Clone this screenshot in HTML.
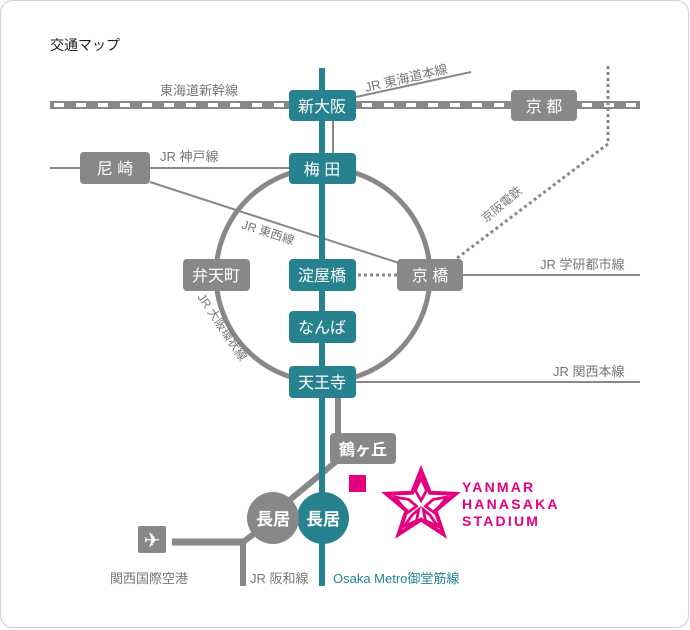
<!DOCTYPE html>
<html><head><meta charset="utf-8"><style>
html,body{margin:0;padding:0;background:#fff}
svg{display:block}
text{font-family:"Liberation Sans","Noto Sans CJK JP",sans-serif}
</style></head><body>
<svg width="690" height="630" viewBox="0 0 690 630" xmlns="http://www.w3.org/2000/svg">
<rect x="0.5" y="0.5" width="688" height="627" rx="12" fill="#fff" stroke="#d0d0d0"/>
<text x="50" y="50" font-size="14" fill="#222">交通マップ</text>

<line x1="50" y1="105" x2="640" y2="105" stroke="#888" stroke-width="8"/>
<line x1="54" y1="105" x2="640" y2="105" stroke="#fff" stroke-width="4" stroke-dasharray="10,12"/>
<text x="160" y="95" font-size="13" fill="#777">東海道新幹線</text>
<line x1="356" y1="97" x2="471" y2="72" stroke="#888" stroke-width="2"/>
<text x="0" y="0" font-size="13" fill="#777" transform="translate(366,92) rotate(-13)">JR 東海道本線</text>
<polyline points="608,66 608,144 452,262" fill="none" stroke="#888" stroke-width="3" stroke-dasharray="3,3"/>
<text x="0" y="0" font-size="12" fill="#777" transform="translate(486,223) rotate(-40)">京阪電鉄</text>
<line x1="333" y1="121" x2="333" y2="153" stroke="#888" stroke-width="2"/>
<line x1="50" y1="168" x2="290" y2="168" stroke="#888" stroke-width="2"/>
<text x="160" y="161" font-size="13" fill="#777">JR 神戸線</text>
<line x1="150" y1="182" x2="402" y2="264" stroke="#888" stroke-width="2"/>
<text x="0" y="0" font-size="12" fill="#777" transform="translate(241,228) rotate(18)">JR 東西線</text>
<circle cx="323" cy="275" r="107" fill="none" stroke="#888" stroke-width="5"/>
<text x="0" y="0" font-size="12" fill="#777" transform="translate(197,297) rotate(56)">JR 大阪環状線</text>
<line x1="463" y1="275" x2="640" y2="275" stroke="#888" stroke-width="2"/>
<text x="540" y="269" font-size="13" fill="#777">JR 学研都市線</text>
<line x1="358" y1="275" x2="397" y2="275" stroke="#888" stroke-width="3" stroke-dasharray="3,3"/>
<line x1="356" y1="382" x2="640" y2="382" stroke="#888" stroke-width="2"/>
<text x="553" y="376" font-size="13" fill="#777">JR 関西本線</text>

<line x1="338" y1="396" x2="338" y2="436" stroke="#888" stroke-width="6"/>
<line x1="338" y1="460" x2="268" y2="518" stroke="#888" stroke-width="6"/>
<line x1="172" y1="542" x2="246" y2="542" stroke="#888" stroke-width="7"/>
<line x1="243" y1="540" x2="243" y2="586" stroke="#888" stroke-width="6"/>
<line x1="243" y1="542" x2="262" y2="528" stroke="#888" stroke-width="6"/>

<line x1="322" y1="68" x2="322" y2="586" stroke="#26828f" stroke-width="6"/>

<g fill="#26828f">
<rect x="289" y="90" width="67" height="31" rx="4"/>
<rect x="289" y="153" width="67" height="31" rx="4"/>
<rect x="289" y="259" width="67" height="32" rx="4"/>
<rect x="289" y="311" width="67" height="32" rx="4"/>
<rect x="289" y="366" width="67" height="32" rx="4"/>
<circle cx="323" cy="518" r="26"/>
</g>
<g fill="#888">
<rect x="511" y="90" width="66" height="31" rx="4"/>
<rect x="80" y="152" width="70" height="32" rx="4"/>
<rect x="183" y="259" width="67" height="32" rx="4"/>
<rect x="397" y="259" width="66" height="32" rx="4"/>
<rect x="330" y="433" width="66" height="31" rx="4"/>
<circle cx="273" cy="518" r="26"/>
<rect x="138" y="526" width="28" height="27" rx="2"/>
</g>
<g fill="#fff" font-size="16" text-anchor="middle">
<text x="322" y="112">新大阪</text>
<text x="322" y="175">梅 田</text>
<text x="322" y="281">淀屋橋</text>
<text x="322" y="333">なんば</text>
<text x="322" y="388">天王寺</text>
<text x="544" y="112">京 都</text>
<text x="115" y="174">尼 崎</text>
<text x="216" y="281">弁天町</text>
<text x="430" y="281">京 橋</text>
<text x="363" y="455" font-weight="bold">鶴ヶ丘</text>
<text x="323" y="525" font-weight="bold" font-size="17">長居</text>
<text x="273" y="525" font-weight="bold" font-size="17">長居</text>
<text x="152" y="547" font-size="20">✈</text>
</g>
<text x="110" y="583" font-size="13" fill="#777">関西国際空港</text>
<text x="250" y="583" font-size="13" fill="#777">JR 阪和線</text>
<text x="333" y="583" font-size="13" fill="#26828f">Osaka Metro御堂筋線</text>

<rect x="349" y="475" width="17" height="17" fill="#e4007f"/>
<g transform="translate(421,505) scale(1.12)" fill="none" stroke="#e4007f" stroke-width="3.5" stroke-linejoin="miter">
<polygon points="0,-31 8,-11 31,-10 13,5 20,26 0,13 -20,26 -13,5 -31,-10 -8,-11"/>
<g stroke-width="2.5">
<polygon points="0,-24 5,-13 0,-4 -5,-13"/>
<polygon points="23,-7 11,-5 4,1 12,7"/>
<polygon points="-23,-7 -11,-5 -4,1 -12,7"/>
<polygon points="15,19 8,9 2,4 4,14"/>
<polygon points="-15,19 -8,9 -2,4 -4,14"/>
</g>
</g>
<g fill="#e4007f" font-size="14" font-weight="bold" letter-spacing="2.2">
<text x="462" y="492">YANMAR</text>
<text x="462" y="509">HANASAKA</text>
<text x="462" y="526">STADIUM</text>
</g>
</svg>
</body></html>
